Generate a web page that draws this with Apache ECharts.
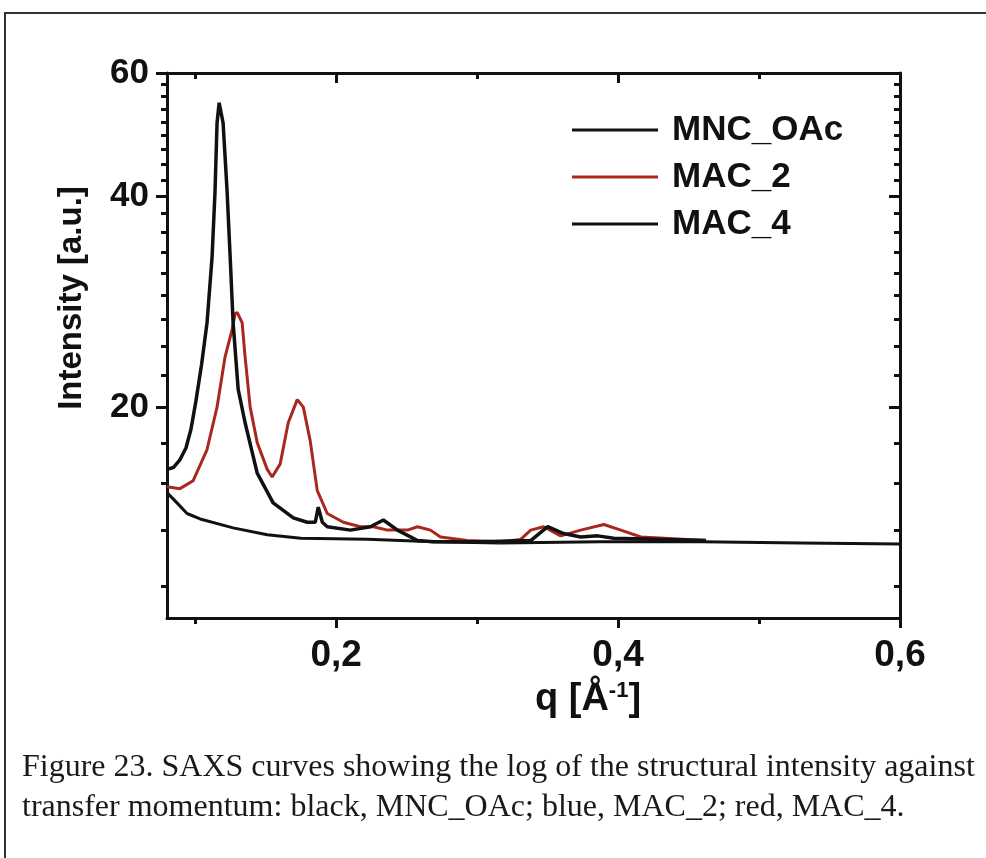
<!DOCTYPE html>
<html>
<head>
<meta charset="utf-8">
<script src="https://cdn.jsdelivr.net/npm/echarts@6/dist/echarts.min.js"></script>
<style>
  html, body { margin: 0; padding: 0; background: #fff; }
  #main { width: 986px; height: 858px; }
</style>
</head>
<body>
<div id="main"></div>
<script>
// SAXS curves, q in 1/Å, intensity in a.u. (log axis)
const qMNC = [0.080, 0.0871, 0.0942, 0.1035, 0.1269, 0.1511, 0.175, 0.2221, 0.2691, 0.3167, 0.3877, 0.4588, 0.5299, 0.600];
const iMNC = [15.1, 14.6, 14.1, 13.85, 13.45, 13.15, 13.0, 12.95, 12.85, 12.8, 12.85, 12.85, 12.8, 12.75];

const qMAC2 = [0.080, 0.0892, 0.0985, 0.1084, 0.1155, 0.1212, 0.1262, 0.1283, 0.1298, 0.1333, 0.1354, 0.139, 0.144, 0.1511,
  0.1546, 0.1603, 0.166, 0.1724, 0.1767, 0.1816, 0.1866, 0.1937, 0.2051, 0.2172, 0.2264, 0.2364, 0.2506, 0.2577, 0.2669,
  0.274, 0.2932, 0.3167, 0.3309, 0.338, 0.3472, 0.3593, 0.3735, 0.3899, 0.402, 0.4162, 0.4624];
const iMAC2 = [15.4, 15.3, 15.7, 17.4, 20.0, 23.6, 25.8, 27.2, 27.3, 26.4, 23.6, 20.0, 17.8, 16.3,
  15.9, 16.6, 19.0, 20.5, 20.0, 17.9, 15.2, 14.1, 13.7, 13.5, 13.5, 13.35, 13.35, 13.5, 13.35,
  13.05, 12.9, 12.85, 12.95, 13.35, 13.5, 13.1, 13.35, 13.6, 13.35, 13.05, 12.9];

const qMAC4 = [0.080, 0.0845, 0.089, 0.0935, 0.097, 0.1005, 0.1045, 0.1084, 0.112, 0.1141, 0.1155, 0.117, 0.1198, 0.1226,
  0.1248, 0.1269, 0.1305, 0.1354, 0.144, 0.1553, 0.1696, 0.1795, 0.1852, 0.1873, 0.1902, 0.1937, 0.2101, 0.2243, 0.2335,
  0.2435, 0.2577, 0.2691, 0.3025, 0.338, 0.3501, 0.3614, 0.3735, 0.3856, 0.397, 0.4624];
const iMAC4 = [16.3, 16.4, 16.8, 17.5, 18.6, 20.4, 23.0, 26.4, 32.8, 40.8, 50.9, 54.4, 50.9, 40.8,
  32.8, 26.4, 21.2, 19.0, 16.1, 14.6, 13.9, 13.7, 13.7, 14.4, 13.7, 13.5, 13.35, 13.5, 13.8,
  13.35, 12.9, 12.85, 12.85, 12.9, 13.5, 13.2, 13.05, 13.1, 13.0, 12.9];

// axis ticks
const xMajor = [0.2, 0.4, 0.6];
const xMinor = [0.1, 0.3, 0.5];
const yMajor = [20, 40, 60];
const yMinor = [11.11, 13.33, 15.56, 17.78, 22.22, 24.44, 26.67, 28.89, 31.11, 33.33, 35.56, 37.78,
  42.22, 44.44, 46.67, 48.89, 51.11, 53.33, 55.56, 57.78];

const zip = (xs, ys) => xs.map((x, i) => [x, ys[i]]);

const font = 'Liberation Sans, Arial, sans-serif';
const black = '#111';
const red = '#a8281e';

function xAx(pos, values, len, inside, showLine, label) {
  return {
    type: 'value', position: pos, min: 0.08, max: 0.6,
    axisLine: { show: showLine, onZero: false, lineStyle: { color: black, width: 3 } },
    axisTick: { show: true, inside: inside, length: len, customValues: values, lineStyle: { color: black, width: 3 } },
    axisLabel: label ? {
      show: true, customValues: values, margin: 19, color: black,
      fontFamily: font, fontWeight: 'bold', fontSize: 37,
      formatter: (v) => v.toFixed(1).replace('.', ',')
    } : { show: false },
    splitLine: { show: false }
  };
}

function yAx(pos, values, len, inside, showLine, label) {
  return {
    type: 'log', logBase: 10, position: pos, min: 10, max: 60,
    axisLine: { show: showLine, onZero: false, lineStyle: { color: black, width: 3 } },
    axisTick: { show: true, inside: inside, length: len, customValues: values, lineStyle: { color: black, width: 3 } },
    axisLabel: label ? {
      show: true, customValues: values, margin: 18, color: black,
      fontFamily: font, fontWeight: 'bold', fontSize: 35,
      formatter: (v) => String(Math.round(v))
    } : { show: false },
    splitLine: { show: false }
  };
}

const chart = echarts.init(document.getElementById('main'));

chart.setOption({
  backgroundColor: '#fff',
  animation: false,
  grid: { left: 167, right: 86, top: 73, bottom: 240, outerBoundsMode: 'none' },
  xAxis: [
    xAx('bottom', xMajor, 10, false, true, true),
    xAx('bottom', xMinor, 6, false, false, false),
    xAx('top', xMajor, 10, true, true, false),
    xAx('top', xMinor, 6, true, false, false)
  ],
  yAxis: [
    yAx('left', yMajor, 11, false, true, true),
    yAx('left', yMinor, 6, false, false, false),
    yAx('right', yMajor, 11, true, true, false),
    yAx('right', yMinor, 6, true, false, false)
  ],
  legend: {
    orient: 'vertical', left: 567, top: 107, icon: 'rect', itemWidth: 86, itemHeight: 3, itemGap: 11,
    textStyle: { fontFamily: font, fontWeight: 'bold', fontSize: 35, color: black, lineHeight: 36, padding: [0, 0, 0, 9] },
    data: ['MNC_OAc', 'MAC_2', 'MAC_4']
  },
  series: [
    { name: 'MNC_OAc', type: 'line', symbol: 'none', data: zip(qMNC, iMNC),
      lineStyle: { color: black, width: 3 }, itemStyle: { color: black } },
    { name: 'MAC_2', type: 'line', symbol: 'none', data: zip(qMAC2, iMAC2),
      lineStyle: { color: red, width: 3 }, itemStyle: { color: red } },
    { name: 'MAC_4', type: 'line', symbol: 'none', data: zip(qMAC4, iMAC4),
      lineStyle: { color: black, width: 3.5 }, itemStyle: { color: black } }
  ],
  graphic: [
    // figure frame
    { type: 'polyline', shape: { points: [[5, 858], [5, 13], [986, 13]] }, style: { stroke: '#333', lineWidth: 2, fill: null } },
    { type: 'text', x: 72, y: 298, rotation: Math.PI / 2,
      style: { text: 'Intensity [a.u.]', font: 'bold 33px ' + font, fill: black, align: 'center', verticalAlign: 'middle' } },
    { type: 'text', x: 588, y: 700,
      style: {
        text: 'q [Å{sup|-1}]', fill: black, align: 'center', verticalAlign: 'middle',
        font: 'bold 38px ' + font,
        rich: { sup: { fontFamily: font, fontWeight: 'bold', fontSize: 22, verticalAlign: 'top', padding: [0, 0, 18, 0] } }
      } },
    { type: 'text', x: 22, y: 768,
      style: { text: 'Figure 23. SAXS curves showing the log of the structural intensity against', font: '32px Liberation Serif, Times New Roman, serif', fill: '#1a1a1a', verticalAlign: 'middle' } },
    { type: 'text', x: 22, y: 808,
      style: { text: 'transfer momentum: black, MNC_OAc; blue, MAC_2; red, MAC_4.', font: '32px Liberation Serif, Times New Roman, serif', fill: '#1a1a1a', verticalAlign: 'middle' } }
  ]
});
</script>
</body>
</html>
